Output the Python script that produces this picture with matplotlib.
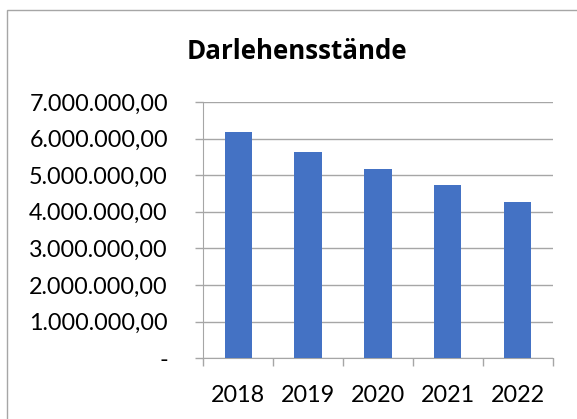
import numpy as np
import matplotlib
matplotlib.use("Agg")
import matplotlib.pyplot as plt
from matplotlib.ticker import FuncFormatter, FixedLocator

# data
years = ["2018", "2019", "2020", "2021", "2022"]
values = [6190000, 5630000, 5160000, 4720000, 4260000]
yticks = [0, 1000000, 2000000, 3000000, 4000000, 5000000, 6000000, 7000000]

plt.rcParams["font.family"] = ["Lato", "DejaVu Sans"]

fig = plt.figure(figsize=(5.77, 4.19), dpi=100)
ax = fig.add_axes([203.3 / 577, 1 - 358.3 / 419, 349.2 / 577, 256.3 / 419])

x = np.arange(len(years))
ax.bar(x, values, width=0.39, color="#4472C4", zorder=3)

ax.set_xlim(-0.5, len(years) - 0.5)
ax.set_ylim(0, 7000000)


def de_fmt(v, pos):
    if v == 0:
        return "-"
    s = f"{v:,.2f}"
    return s.replace(",", "X").replace(".", ",").replace("X", ".")


grey = "#a6a6a6"
ax.yaxis.set_major_locator(FixedLocator(yticks))
ax.yaxis.set_major_formatter(FuncFormatter(de_fmt))
ax.tick_params(axis="y", length=5.8, width=1, color=grey, pad=19.7,
               labelsize=16.8, labelcolor="black")
ax.grid(axis="y", color=grey, linewidth=1, zorder=0)

ax.set_xticks(x)
ax.set_xticklabels(years)
ax.set_xticks(np.arange(len(years) + 1) - 0.5, minor=True)
ax.tick_params(axis="x", which="major", length=0, pad=19.2, labelsize=16.8)
ax.tick_params(axis="x", which="minor", length=5.8, width=1, color=grey)

for side in ["top", "right"]:
    ax.spines[side].set_visible(False)
ax.spines["left"].set_color(grey)
ax.spines["bottom"].set_color(grey)

fig.text(296.5 / 577, 1 - 59 / 419, "Darlehensstände", ha="center",
         va="baseline", fontsize=18.6, fontweight="bold",
         family=["Open Sans", "DejaVu Sans"])

# chart frame
fig.add_artist(plt.Rectangle((7 / 577, -0.01), 1.0, 1 - 9.7 / 419 + 0.01,
                             transform=fig.transFigure, fill=False,
                             edgecolor=grey, linewidth=1))

fig.savefig("out.png", dpi=100)
